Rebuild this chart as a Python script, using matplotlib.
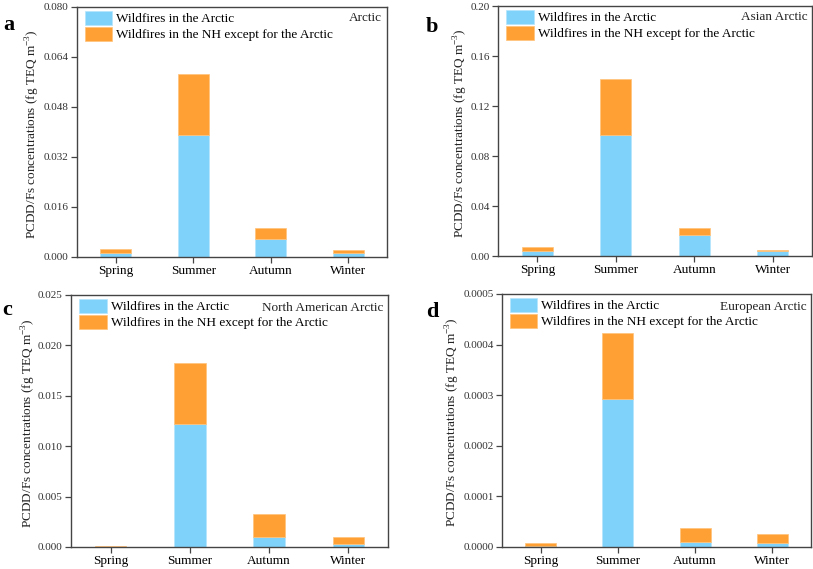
import numpy as np
import matplotlib
matplotlib.use('Agg')
import matplotlib.pyplot as plt

plt.rcParams['font.family'] = 'Liberation Serif'
plt.rcParams['mathtext.fontset'] = 'custom'
plt.rcParams['mathtext.rm'] = 'Liberation Serif'

seasons = ['Spring', 'Summer', 'Autumn', 'Winter']

# wildfires in the Arctic / wildfires in the NH except for the Arctic
arctic_a = [0.0014, 0.0389, 0.0058, 0.0012]
nh_a = [0.0013, 0.0196, 0.0035, 0.0009]
arctic_b = [0.0040, 0.0967, 0.0165, 0.0037]
nh_b = [0.0035, 0.0447, 0.0056, 0.0011]
arctic_c = [0.00002, 0.01225, 0.00103, 0.00026]
nh_c = [0.00005, 0.00599, 0.00228, 0.00070]
arctic_d = [0.0000020, 0.000292, 0.0000106, 0.0000073]
nh_d = [0.0000053, 0.000131, 0.0000270, 0.0000191]

region_names = ['Arctic', 'Asian Arctic', 'North American Arctic', 'European Arctic']
letters = ['a', 'b', 'c', 'd']
yticks_list = [np.arange(0, 0.0801, 0.016), np.arange(0, 0.2001, 0.04),
               np.arange(0, 0.02501, 0.005), np.arange(0, 0.000501, 0.0001)]
yfmt = ['%.3f', '%.2f', '%.3f', '%.4f']
ymax = [0.080, 0.20, 0.025, 0.0005]

blue = '#7fd3fa'
orange = '#ffa034'

W, H = 813, 569
fig = plt.figure(figsize=(W / 100, H / 100), dpi=100)

# axes boxes in pixels: left, top, right, bottom
boxes = [(77, 7, 387, 257), (498, 6, 812, 256), (71, 295, 388, 547), (502, 294, 811, 547)]
letter_pos = [(3, 30), (426, 32), (2, 315), (426, 317)]
ylabel_x = [33, 461, 29, 453]

data = [(arctic_a, nh_a), (arctic_b, nh_b), (arctic_c, nh_c), (arctic_d, nh_d)]
x = np.arange(len(seasons))

for i, (l, t, r, b) in enumerate(boxes):
    ax = fig.add_axes([l / W, 1 - b / H, (r - l) / W, (b - t) / H])
    arc, nh = data[i]
    ax.bar(x, arc, width=0.4, color=blue, edgecolor='#b5e6fc', linewidth=0.5,
           label='Wildfires in the Arctic')
    ax.bar(x, nh, width=0.4, bottom=arc, color=orange, edgecolor='#ffc27a', linewidth=0.5,
           label='Wildfires in the NH except for the Arctic')
    ax.set_xlim(-0.5, 3.5)
    ax.set_ylim(0, ymax[i])
    ax.set_xticks(x)
    ax.set_xticklabels(seasons, fontsize=9.5)
    ax.set_yticks(yticks_list[i])
    ax.set_yticklabels([yfmt[i] % v for v in yticks_list[i]], fontsize=8, color='#333333')
    ax.tick_params(direction='out', length=4, width=0.9, color='#444444', pad=2)
    for s in ax.spines.values():
        s.set_linewidth(1.0)
        s.set_color('#444444')
    ax.text(0.985, 0.955 if i < 2 else 0.948, region_names[i], transform=ax.transAxes,
            ha='right', va='center', fontsize=9.5, color='#222222')
    ax.legend(loc='upper left', bbox_to_anchor=(0.025, 0.985), frameon=False,
              fontsize=9.5, handlelength=2.1, handleheight=1.25, labelspacing=0.12,
              handletextpad=0.3, borderpad=0.0, borderaxespad=0.0)
    fig.text(ylabel_x[i] / W, 1 - ((t + b) / 2 + 2) / H,
             'PCDD/Fs concentrations (fg TEQ m$^{-3}$)', rotation=90,
             ha='center', va='center', fontsize=9.5, color='#222222')
    fig.text(letter_pos[i][0] / W, 1 - letter_pos[i][1] / H, letters[i],
             fontsize=16, fontweight='bold', ha='left', va='baseline')

plt.savefig('out.png', dpi=100)
